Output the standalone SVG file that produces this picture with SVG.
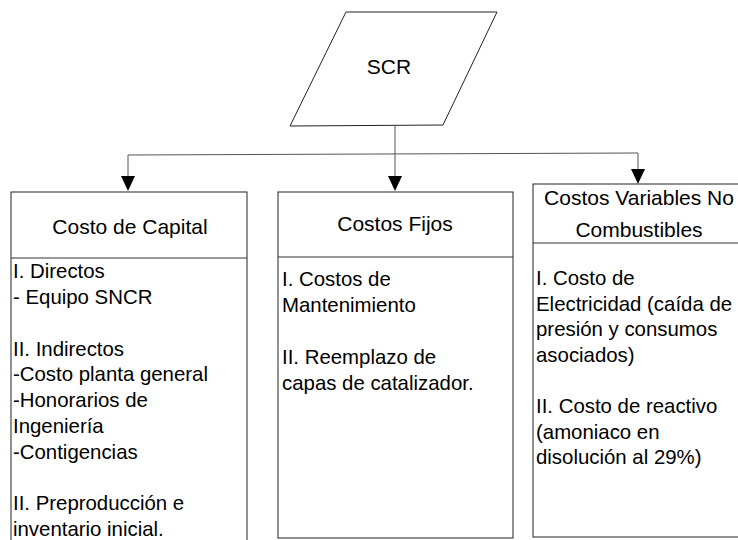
<svg xmlns="http://www.w3.org/2000/svg" width="738" height="540" viewBox="0 0 738 540">
<style>
.box{fill:#fff;stroke:#222;stroke-width:1}
.div{stroke:#333;stroke-width:1}
.hd{font-family:"Liberation Sans",Arial,sans-serif;font-size:21px;fill:#000;text-anchor:middle}
.bd{font-family:"Liberation Sans",Arial,sans-serif;font-size:20.4px;fill:#000}
.con{fill:none;stroke:#555;stroke-width:1}
</style>
<defs>
<marker id="arr" markerWidth="14" markerHeight="16" refX="7" refY="15" orient="auto-start-reverse" markerUnits="userSpaceOnUse" viewBox="0 0 14 16">
<path d="M0,0 L14,0 L7,15 Z" fill="#000"/>
</marker>
</defs>
<rect width="738" height="540" fill="#fff"/>
<g id="connectors">
<path class="con" d="M395,125 L395,176"/>
<path class="con" d="M128,176 L128,155 L638,153 L638,169"/>
<path d="M121,176 L135,176 L128,191 Z" fill="#000"/>
<path d="M388,176 L402,176 L395,191 Z" fill="#000"/>
<path d="M631,169 L645,169 L638,184 Z" fill="#000"/>
</g>
<g id="scr">
<polygon class="box" points="346,12 497,12 443,125 290,126"/>
<text class="hd" x="389" y="74">SCR</text>
</g>
<g id="costo-capital">
<rect class="box" x="11" y="192" width="236" height="360"/>
<line class="div" x1="11" y1="258" x2="247" y2="258"/>
<text class="hd" x="130" y="234">Costo de Capital</text>
<text class="bd" x="13">
<tspan x="13" y="278">I. Directos</tspan>
<tspan x="13" y="304">- Equipo SNCR</tspan>
<tspan x="13" y="356">II. Indirectos</tspan>
<tspan x="13" y="381">-Costo planta general</tspan>
<tspan x="13" y="407">-Honorarios de</tspan>
<tspan x="13" y="433">Ingeniería</tspan>
<tspan x="13" y="459">-Contigencias</tspan>
<tspan x="13" y="510">II. Preproducción e</tspan>
<tspan x="13" y="536">inventario inicial.</tspan>
</text>
</g>
<g id="costos-fijos">
<rect class="box" x="278" y="192" width="235" height="346"/>
<line class="div" x1="278" y1="257" x2="513" y2="257"/>
<text class="hd" x="395" y="231">Costos Fijos</text>
<text class="bd">
<tspan x="282" y="286">I. Costos de</tspan>
<tspan x="282" y="312">Mantenimiento</tspan>
<tspan x="282" y="364">II. Reemplazo de</tspan>
<tspan x="282" y="390">capas de catalizador.</tspan>
</text>
</g>
<g id="costos-variables">
<rect class="box" x="533" y="184" width="230" height="353"/>
<line class="div" x1="533" y1="243" x2="763" y2="243"/>
<text class="hd" x="639" y="205">Costos Variables No</text>
<text class="hd" x="639" y="237">Combustibles</text>
<text class="bd">
<tspan x="536" y="285">I. Costo de</tspan>
<tspan x="536" y="311">Electricidad (caída de</tspan>
<tspan x="536" y="336">presión y consumos</tspan>
<tspan x="536" y="362">asociados)</tspan>
<tspan x="536" y="413">II. Costo de reactivo</tspan>
<tspan x="536" y="439">(amoniaco en</tspan>
<tspan x="536" y="464">disolución al 29%)</tspan>
</text>
</g>
</svg>
